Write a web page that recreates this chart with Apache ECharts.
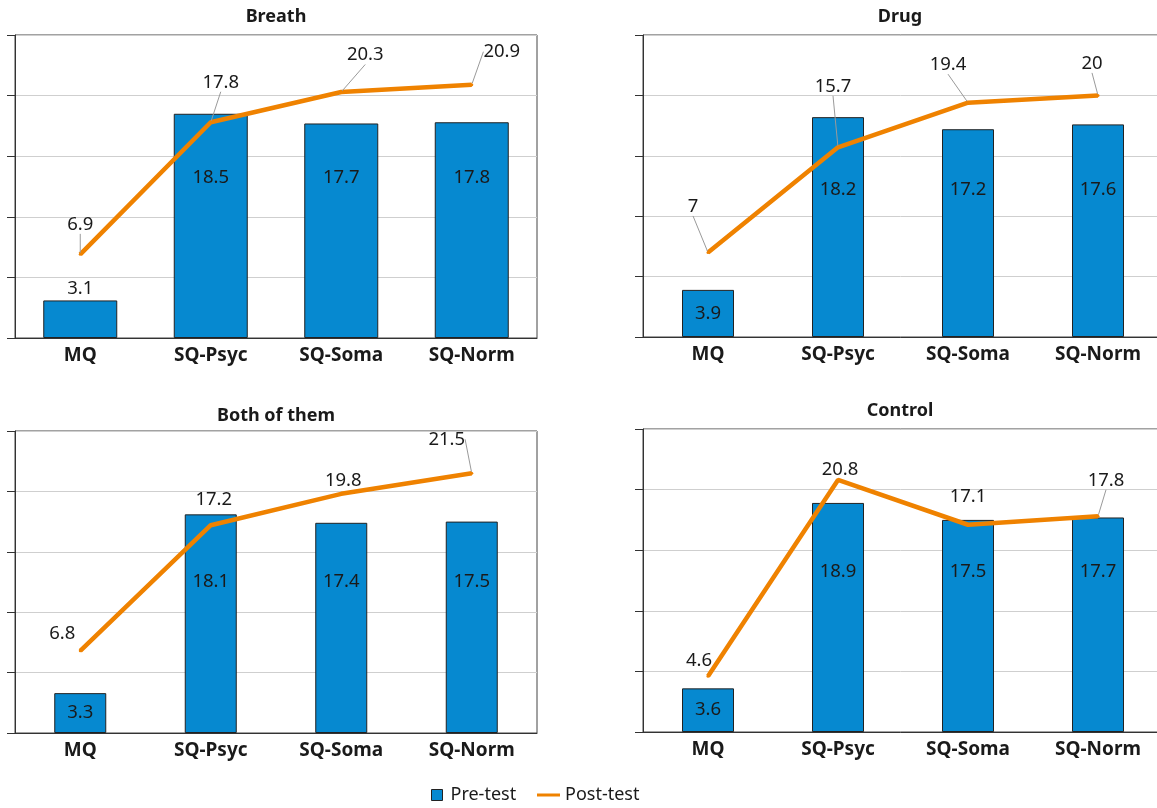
<!DOCTYPE html>
<html>
<head>
<meta charset="utf-8">
<script src="https://cdn.jsdelivr.net/npm/echarts@6/dist/echarts.min.js"></script>
<style>
html,body{margin:0;padding:0;background:#fff;}
#chart{width:1157px;height:808px;}
</style>
</head>
<body>
<div id="chart"></div>
<script>
const categories = ['MQ', 'SQ-Psyc', 'SQ-Soma', 'SQ-Norm'];
const panelTitles = ['Breath', 'Drug', 'Both of them', 'Control'];
const preBreath = [3.1, 18.5, 17.7, 17.8];
const postBreath = [6.9, 17.8, 20.3, 20.9];
const preDrug = [3.9, 18.2, 17.2, 17.6];
const postDrug = [7, 15.7, 19.4, 20];
const preBoth = [3.3, 18.1, 17.4, 17.5];
const postBoth = [6.8, 17.2, 19.8, 21.5];
const preControl = [3.6, 18.9, 17.5, 17.7];
const postControl = [4.6, 20.8, 17.1, 17.8];
const yMin = 0, yMax = 25, yStep = 5;

const preSets = [preBreath, preDrug, preBoth, preControl];
const postSets = [postBreath, postDrug, postBoth, postControl];

// layout / style settings
const grids = [
  {left: 15, top: 35, width: 522, height: 303},
  {left: 643, top: 35, width: 520, height: 302},
  {left: 15, top: 431, width: 522, height: 302},
  {left: 643, top: 429, width: 520, height: 303}
];
const titleTops = [8, 8, 407, 402];
const barWidths = [74, 52, 52, 52];
const barLabelLift = [151, 138, 142, 151];
const firstBarLabelPos = ['top', 'inside', 'inside', 'inside'];
const lineLabelShift = [
  [[0, -30], [10, -40], [24, -37], [30, -33]],
  [[-15, -46], [-5, -61], [-20, -38], [-6, -32]],
  [[-18, -17], [3, -25], [2, -13], [-25, -34]],
  [[-9, -16], [2, -10], [0, -28], [8, -36]]
];
const leaderShown = [
  [true, true, true, true],
  [true, true, true, true],
  [false, false, false, true],
  [false, false, false, true]
];

const FONT = 'Noto Sans';
const TEXT = '#1a1a1a';
const BLUE = '#0689d0';
const ORANGE = '#ef8200';

const option = {
  animation: false,
  backgroundColor: '#fff',
  textStyle: {fontFamily: FONT},
  title: panelTitles.map((t, i) => ({
    text: t,
    left: grids[i].left + grids[i].width / 2 - (i % 2 === 1 ? 3 : 0),
    textAlign: 'center',
    top: titleTops[i],
    padding: 0,
    textStyle: {fontFamily: FONT, fontSize: 18, fontWeight: 'bold', color: TEXT}
  })),
  legend: [
    {
      data: [{name: 'Pre-test', icon: 'rect'}],
      left: 431, top: 786, padding: 0,
      itemWidth: 11, itemHeight: 11,
      itemStyle: {borderColor: '#222', borderWidth: 1},
      textStyle: {fontFamily: FONT, fontSize: 18, color: TEXT, padding: [0, 0, 0, 3]}
    },
    {
      data: [{name: 'Post-test', icon: 'rect'}],
      left: 537, top: 786, padding: 0,
      itemWidth: 23, itemHeight: 3,
      textStyle: {fontFamily: FONT, fontSize: 18, color: TEXT}
    }
  ],
  grid: grids.map(g => Object.assign({
    show: true, borderColor: '#444', borderWidth: 1,
    containLabel: false, outerBoundsMode: 'none'
  }, g)),
  xAxis: grids.map((g, i) => ({
    gridIndex: i,
    type: 'category',
    data: categories,
    axisTick: {show: false},
    axisLine: {show: true, lineStyle: {color: '#333', width: 1}},
    axisLabel: {fontFamily: FONT, fontSize: 19, fontWeight: 'bold', color: TEXT, margin: 8}
  })),
  yAxis: grids.map((g, i) => ({
    gridIndex: i,
    type: 'value',
    min: yMin, max: yMax, interval: yStep,
    axisLabel: {show: false},
    axisLine: {show: true, lineStyle: {color: '#333', width: 1}},
    axisTick: {show: true, length: 8, lineStyle: {color: '#333'}},
    splitLine: {show: true, lineStyle: {color: '#cfcfcf', width: 1}}
  })),
  series: []
};

preSets.forEach((arr, i) => {
  option.series.push({
    name: 'Pre-test',
    type: 'bar',
    xAxisIndex: i, yAxisIndex: i,
    barWidth: barWidths[i],
    itemStyle: {color: BLUE, borderColor: '#222', borderWidth: 1},
    label: {show: true, fontFamily: FONT, fontSize: 18.5, color: TEXT},
    data: arr.map((v, j) => ({
      value: v,
      label: j === 0
        ? {position: firstBarLabelPos[i], distance: 2}
        : {position: 'insideBottom', distance: barLabelLift[i]}
    }))
  });
});

postSets.forEach((arr, i) => {
  option.series.push({
    name: 'Post-test',
    type: 'line',
    xAxisIndex: i, yAxisIndex: i,
    symbol: 'circle', symbolSize: 3, showSymbol: true,
    itemStyle: {color: ORANGE},
    lineStyle: {color: ORANGE, width: 4.5},
    z: 5,
    label: {show: true, position: 'inside', fontFamily: FONT, fontSize: 18.5, color: TEXT},
    labelLine: {show: true, lineStyle: {color: '#9a9a9a', width: 1}},
    labelLayout: function (p) {
      const s = lineLabelShift[i][p.dataIndex];
      return {dx: s[0], dy: s[1]};
    },
    data: arr.map((v, j) => ({
      value: v,
      labelLine: {show: leaderShown[i][j]}
    }))
  });
});

const chart = echarts.init(document.getElementById('chart'), null, {renderer: 'canvas'});
chart.setOption(option);
</script>
</body>
</html>
